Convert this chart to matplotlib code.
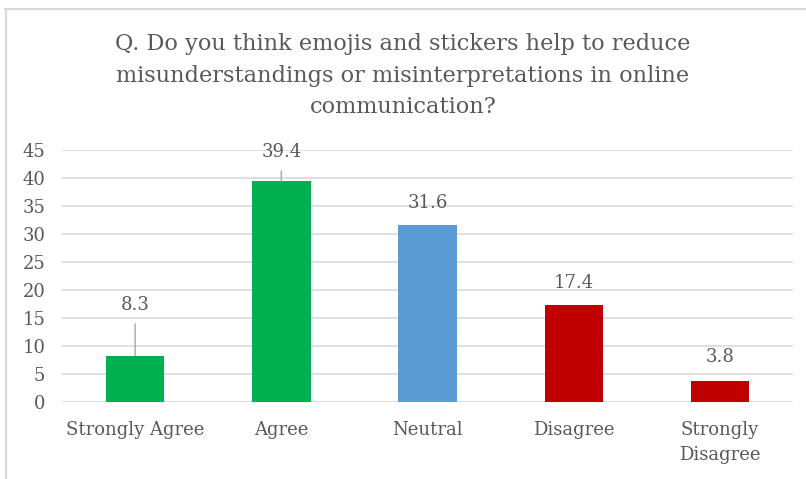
import matplotlib.pyplot as plt
from matplotlib.lines import Line2D

# Réponses à la question du sondage (en %)
categories = ['Strongly Agree', 'Agree', 'Neutral', 'Disagree', 'Strongly\nDisagree']
pourcentages = [8.3, 39.4, 31.6, 17.4, 3.8]
couleurs = ['#00B050', '#00B050', '#5B9BD5', '#C00000', '#C00000']
y_ticks = [0, 5, 10, 15, 20, 25, 30, 35, 40, 45]

titre = ('Q. Do you think emojis and stickers help to reduce\n'
         'misunderstandings or misinterpretations in online\n'
         'communication?')

gris_texte = '#595959'
gris_ligne = '#D9D9D9'
plt.rcParams['font.family'] = ['DejaVu Serif']

fig = plt.figure(figsize=(8.06, 4.79), dpi=100)
ax = fig.add_axes([0.0769, 0.1608, 0.9071, 0.526])

x = list(range(len(categories)))
barres = ax.bar(x, pourcentages, width=0.4, color=couleurs, zorder=3)

ax.set_xlim(-0.5, len(categories) - 0.5)
ax.set_ylim(0, 45)
ax.set_yticks(y_ticks)
ax.yaxis.grid(True, color=gris_ligne, linewidth=1.2, zorder=0)
ax.set_axisbelow(True)
for s in ax.spines.values():
    s.set_visible(False)
ax.tick_params(axis='both', length=0, labelsize=13, colors=gris_texte)
ax.tick_params(axis='y', pad=12)
ax.tick_params(axis='x', pad=14)
ax.set_xticks(x)
ax.set_xticklabels(categories, linespacing=1.45)

# Étiquettes de valeur (certaines avec une ligne de rappel)
decalages = [(9.0, True), (5.2, True), (3.9, False), (3.85, False), (4.2, False)]
for xi, val, (dy, trait) in zip(x, pourcentages, decalages):
    if trait:
        ax.annotate(f'{val}', xy=(xi, val), xytext=(xi, val + dy),
                    ha='center', va='center', fontsize=13, color=gris_texte,
                    arrowprops=dict(arrowstyle='-', color='#A6A6A6', lw=1,
                                    shrinkA=5, shrinkB=0))
    else:
        ax.text(xi, val + dy, f'{val}', ha='center', va='center',
                fontsize=13, color=gris_texte)

fig.text(0.5, 0.842, titre, ha='center', va='center', fontsize=16.2,
         color=gris_texte, linespacing=1.55)

# Cadre du graphique (haut et gauche)
fig.add_artist(Line2D([5 / 806, 1], [1 - 9 / 479, 1 - 9 / 479], color=gris_ligne, lw=1.5))
fig.add_artist(Line2D([6 / 806, 6 / 806], [0, 1 - 9 / 479], color=gris_ligne, lw=1.5))

plt.savefig('out.png', dpi=100)
plt.close()
